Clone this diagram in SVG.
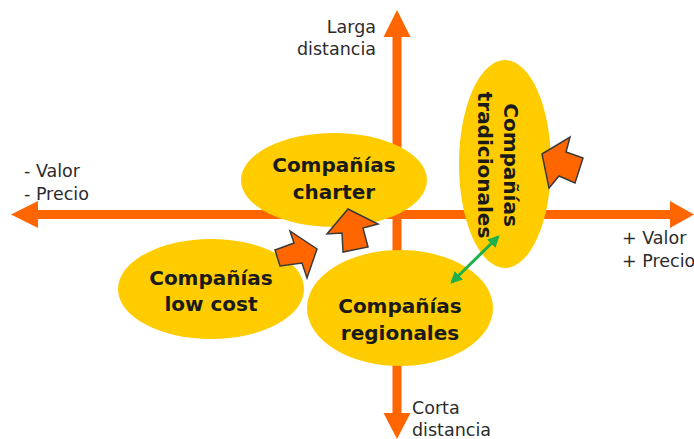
<svg xmlns="http://www.w3.org/2000/svg" width="694" height="439" viewBox="0 0 694 439">
  <style>
    .axis { stroke: #FF6600; stroke-width: 9; fill: none; }
    .head { fill: #FF6600; }
    .oval { fill: #FFCC00; }
    .name { font-family: "DejaVu Sans", Verdana, sans-serif; font-weight: bold; font-size: 20px; fill: #1a1a1a; text-anchor: middle; }
    .lbl { font-family: "DejaVu Sans", Verdana, sans-serif; font-size: 17.5px; fill: #2b2b2b; }
    .push { fill: #FF6600; stroke: #3a3a3a; stroke-width: 1.5; stroke-linejoin: miter; }
  </style>
  <defs>
    <marker id="g" viewBox="0 0 10 10" refX="8" refY="5" markerWidth="4" markerHeight="4" orient="auto-start-reverse">
      <path d="M0,0 L10,5 L0,10 z" fill="#1DB04B"/>
    </marker>
  </defs>
  <rect width="694" height="439" fill="#ffffff"/>

  <g id="connectors">
    <!-- value / price axis -->
    <line class="axis" x1="36" y1="214.5" x2="672" y2="214.5"/>
    <polygon class="head" points="11,214.5 38,201 38,228"/>
    <polygon class="head" points="694,214.5 670,201 670,228"/>
    <!-- distance axis -->
    <line class="axis" x1="397" y1="35" x2="397" y2="415"/>
    <polygon class="head" points="397,10 383.5,37 410.5,37"/>
    <polygon class="head" points="397,439 383.5,413 410.5,413"/>
  </g>

  <g id="axis-labels">
    <text class="lbl" x="376" y="33" text-anchor="end">Larga</text>
    <text class="lbl" x="376" y="55" text-anchor="end">distancia</text>
    <text class="lbl" x="412" y="414">Corta</text>
    <text class="lbl" x="412" y="436">distancia</text>
    <text class="lbl" x="24" y="177">- Valor</text>
    <text class="lbl" x="24" y="200">- Precio</text>
    <text class="lbl" x="622" y="244">+ Valor</text>
    <text class="lbl" x="622" y="267">+ Precio</text>
  </g>

  <g id="charter">
    <ellipse class="oval" cx="334" cy="180" rx="93" ry="47"/>
    <text class="name" x="334" y="172">Compañías</text>
    <text class="name" x="334" y="199">charter</text>
  </g>

  <g id="tradicionales">
    <ellipse class="oval" cx="505" cy="164" rx="46" ry="104"/>
    <g transform="translate(504,165) rotate(90)">
      <text class="name" x="0" y="0">Compañías</text>
      <text class="name" x="0" y="26">tradicionales</text>
    </g>
  </g>

  <g id="low-cost">
    <ellipse class="oval" cx="211" cy="289" rx="93" ry="50"/>
    <text class="name" x="211" y="285">Compañías</text>
    <text class="name" x="211" y="311">low cost</text>
  </g>

  <g id="regionales">
    <ellipse class="oval" cx="400" cy="308" rx="93" ry="58"/>
    <text class="name" x="400" y="313">Compañías</text>
    <text class="name" x="400" y="340">regionales</text>
  </g>

  <g id="moves">
    <!-- low cost pushing towards charter -->
    <polygon class="push" points="275,250 294,243 290,231 317,249 307,278 302,263 280,266"/>
    <!-- charter pushing upwards -->
    <polygon class="push" points="343,252 342,233 327,234 348,209 378,224 363,228 368,247"/>
    <!-- tradicionales pushing left -->
    <polygon class="push" points="542,154 570,137 566,152 583,158 575,183 559,176 549,188"/>
    <!-- regionales / tradicionales link -->
    <line x1="452" y1="282" x2="498" y2="237" stroke="#1DB04B" stroke-width="3" marker-start="url(#g)" marker-end="url(#g)"/>
  </g>
</svg>
